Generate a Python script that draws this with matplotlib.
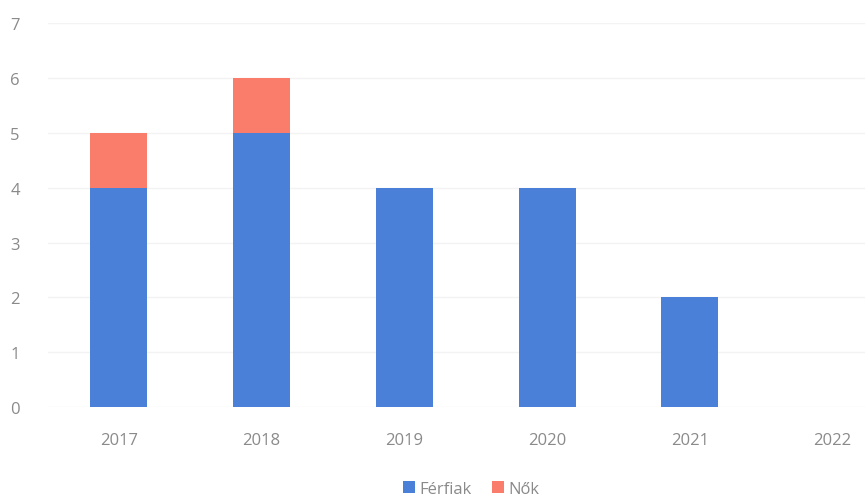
import matplotlib.pyplot as plt
import numpy as np

years = ["2017", "2018", "2019", "2020", "2021", "2022"]
ferfiak = [4, 5, 4, 4, 2, 0]
nok = [1, 1, 0, 0, 0, 0]

blue = "#4a80d8"
red = "#fa7d6c"
text_color = "#8a8a8a"

plt.rcParams['font.family'] = ['Open Sans', 'DejaVu Sans']

fig = plt.figure(figsize=(8.65, 5.02), dpi=100)
ax = fig.add_axes([0.055, 0.187, 0.99, 0.765])

x = np.arange(len(years))
w = 0.4
ax.bar(x, ferfiak, w, color=blue, label="Férfiak", zorder=3)
ax.bar(x, nok, w, bottom=ferfiak, color=red, label="Nők", zorder=3)

ax.set_xlim(-0.5, len(years) - 0.5)
ax.set_ylim(0, 7)
ax.set_yticks(range(0, 8))
ax.set_xticks(x)
ax.set_xticklabels(years)
ax.tick_params(length=0, colors=text_color, labelsize=12)
ax.tick_params(axis='x', pad=18)
ax.tick_params(axis='y', pad=20)
ax.yaxis.grid(True, color="#f3f3f3", linewidth=1, zorder=0)
for s in ax.spines.values():
    s.set_visible(False)

leg = fig.legend(loc="lower center", bbox_to_anchor=(0.545, -0.022), ncol=2, frameon=False,
                 fontsize=12, handlelength=0.7, handleheight=0.7, handletextpad=0.3,
                 columnspacing=1.2)
for t in leg.get_texts():
    t.set_color(text_color)

fig.savefig("out.png", dpi=100)
